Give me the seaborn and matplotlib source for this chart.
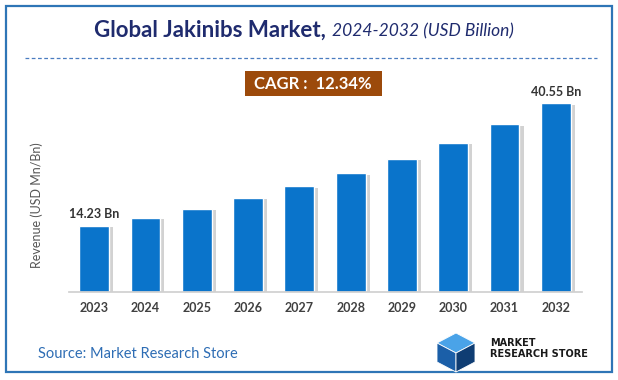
import numpy as np
import pandas as pd
import seaborn as sns
import matplotlib.pyplot as plt
from matplotlib.patches import Rectangle, Polygon
import matplotlib.patheffects as pe

years = ["2023", "2024", "2025", "2026", "2027", "2028", "2029", "2030", "2031", "2032"]
revenue = [14.23, 16.0, 17.95, 20.2, 22.7, 25.5, 28.6, 32.1, 36.1, 40.55]
bar_labels = {"2023": "14.23 Bn", "2032": "40.55 Bn"}

df = pd.DataFrame({"year": years, "revenue": revenue})

sns.set_theme(style="white")
plt.rcParams["font.family"] = ["Lato", "DejaVu Sans"]

fig = plt.figure(figsize=(6.18, 3.8), dpi=100)
W, H = 618, 380

def fx(px):
    return px / W

def fy(py):
    return 1 - py / H

# outer border
fig.patches.append(Rectangle((fx(6), fy(372)), fx(606), 366 / H, transform=fig.transFigure,
                             fill=False, edgecolor="#2E75B6", linewidth=1.6))

# title
fig.text(fx(326), fy(30), "Global Jakinibs Market,", ha="right", va="center",
         fontsize=16, fontweight="bold", color="#1F2B6E")
fig.text(fx(332), fy(31), "2024-2032 (USD Billion)", ha="left", va="center",
         fontsize=12.5, style="italic", color="#1F2B6E")
fig.lines.append(plt.Line2D([fx(25), fx(597)], [fy(58), fy(58)], transform=fig.transFigure,
                            color="#4A7CC0", linestyle=(0, (3, 2)), linewidth=0.9))

# CAGR box
fig.patches.append(Rectangle((fx(245), fy(96)), fx(137), 25 / H, transform=fig.transFigure,
                             facecolor="#9C4A0B", edgecolor="none"))
fig.text(fx(313), fy(84), "CAGR :  12.34%", ha="center", va="center",
         fontsize=12, fontweight="bold", color="white")

ax = fig.add_axes([fx(68.5), fy(292), fx(513), 192 / H])
sns.barplot(data=df, x="year", y="revenue", color="#0A74CB", width=0.58,
            saturation=1, ax=ax)
for bar in ax.patches:
    bar.set_path_effects([pe.SimplePatchShadow(offset=(3, -1), shadow_rgbFace="#808080", alpha=0.35),
                          pe.Normal()])
ax.set_ylim(0, 41.3)
ax.set_xlim(-0.5, 9.5)
for i, y in enumerate(years):
    if y in bar_labels:
        ax.text(i, revenue[i] + 1.2, bar_labels[y], ha="center", va="bottom",
                fontsize=9, fontweight="bold", color="#333333")

ax.set_yticks([])
ax.set_xlabel("")
ax.set_ylabel("")
for s in ["top", "right", "left"]:
    ax.spines[s].set_visible(False)
ax.spines["bottom"].set_color("#D0D0D0")
ax.tick_params(axis="x", length=0, pad=7, labelsize=9, labelcolor="#404040")
for lbl in ax.get_xticklabels():
    lbl.set_fontweight("bold")

fig.text(fx(37), fy(205), "Revenue (USD Mn/Bn)", rotation=90, ha="center", va="center",
         fontsize=9, color="#555555")

# source
fig.text(fx(38), fy(354), "Source: Market Research Store", ha="left", va="center",
         fontsize=10.5, color="#2E6DB4")

# logo
cube = [
    ([(437, 343), (456, 333), (475, 343), (456, 353)], "#4AA3E8"),
    ([(437, 343), (456, 353), (456, 372), (437, 362)], "#1B5FA8"),
    ([(456, 353), (475, 343), (475, 362), (456, 372)], "#0F3D73"),
]
for pts, c in cube:
    fig.patches.append(Polygon([(fx(x), fy(y)) for x, y in pts], closed=True,
                               transform=fig.transFigure, facecolor=c, edgecolor="white",
                               linewidth=0.6))
fig.text(fx(490), fy(343), "MARKET", ha="left", va="center", fontsize=7,
         fontweight="bold", color="#1A1A1A", family=["DejaVu Sans"])
fig.text(fx(490), fy(354), "RESEARCH STORE", ha="left", va="center", fontsize=7,
         fontweight="bold", color="#1A1A1A", family=["DejaVu Sans"])

fig.savefig("out.png", dpi=100)
